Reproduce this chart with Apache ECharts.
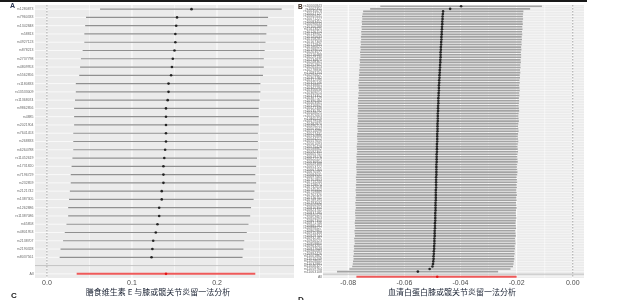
<!DOCTYPE html>
<html><head><meta charset="utf-8">
<script src="https://cdn.jsdelivr.net/npm/echarts@6/dist/echarts.min.js"></script>
<style>html,body{margin:0;padding:0;background:#fff}#c{width:625px;height:300px}</style>
</head><body><div id="c"></div>
<script>
// ---------- Panel A data ----------
const snpsA = ["rs1280873","rs7960333","rs1342848","rs58813","rs4927123","rs878213","rs2737798","rs4809953","rs5562856","rs1180833",
  "rs13533009","rs11368074","rs9862856","rs4885","rs2021904","rs7641453","rs268833","rs6264788","rs11452619","rs1731820",
  "rs7196729","rs232859","rs2121742","rs1387305","rs1262886","rs11387086","rs65858","rs4801953","rs2138707","rs2190328","rs8037561"];
const bA  = [0.170,0.153,0.152,0.151,0.151,0.150,0.148,0.147,0.146,0.143,0.143,0.142,0.140,0.140,0.140,0.140,0.140,0.139,0.138,0.137,0.137,0.137,0.135,0.135,0.132,0.132,0.130,0.128,0.125,0.124,0.123];
const loA = [0.0625,0.046,0.045,0.044,0.044,0.042,0.040,0.039,0.038,0.034,0.034,0.033,0.032,0.032,0.032,0.031,0.031,0.031,0.030,0.029,0.028,0.028,0.027,0.026,0.025,0.025,0.023,0.021,0.019,0.016,0.015];
const hiA = [0.276,0.260,0.259,0.258,0.257,0.256,0.255,0.255,0.254,0.251,0.251,0.250,0.249,0.249,0.249,0.248,0.248,0.248,0.247,0.246,0.245,0.246,0.244,0.243,0.240,0.239,0.237,0.235,0.232,0.231,0.230];
const allA = {b:0.140, lo:0.035, hi:0.245};
const tickLabelsA = [0, 0.1, 0.2];
const majorGridA = [0, 0.1, 0.2];
const minorGridA = [0.05, 0.15, 0.25];

// ---------- Panel B data ----------
const snpsB = ["rs10000843","rs1002351","rs10035678","rs10047127","rs10069431","rs10071227","rs10083452","rs10096633","rs10100289","rs10113425",
"rs10126714","rs10139902","rs10145633","rs10158281","rs10167309","rs10172845","rs10186622","rs10199014","rs10203577","rs10216489",
"rs10229130","rs10234875","rs10248361","rs10251907","rs10265413","rs10278836","rs10281154","rs10294627","rs10307782","rs10312590",
"rs10325146","rs10338801","rs10342297","rs10356638","rs10369014","rs10373352","rs10387729","rs10390184","rs10403561","rs10416907",
"rs10421348","rs10435792","rs10448025","rs10452663","rs10465119","rs10479536","rs10482870","rs10496213","rs10501647","rs10514098",
"rs10527431","rs10530886","rs10544217","rs10557659","rs10561093","rs10575428","rs10588862","rs10592305","rs10605741","rs10619176",
"rs10622519","rs10636954","rs10649388","rs10653722","rs10667160","rs10670597","rs10684031","rs10697465","rs10701803","rs10715240",
"rs10728674","rs10732018","rs10745452","rs10759889","rs10762326","rs10776751","rs10789195","rs10793532","rs10806968","rs10810304",
"rs10823741","rs10837185","rs10840529","rs10854963","rs10867300","rs10871746","rs10885182","rs10898527","rs10902961","rs10915308",
"rs10929744","rs10932187","rs10946523","rs10959860","rs10963201","rs10977649","rs10980083","rs10994426","rs11001862","rs11015209",
"rs11028645","rs11032981","rs11046327","rs11059764","rs11063108"];
const bB = [-0.0398,-0.0437,-0.0462,-0.0463,-0.0464,-0.0464,-0.0465,-0.0465,-0.0466,-0.0466,
-0.0467,-0.0467,-0.0468,-0.0468,-0.0469,-0.0469,-0.0470,-0.0470,-0.0471,-0.0471,
-0.0471,-0.0472,-0.0472,-0.0473,-0.0473,-0.0474,-0.0474,-0.0475,-0.0475,-0.0476,
-0.0476,-0.0477,-0.0477,-0.0477,-0.0478,-0.0478,-0.0479,-0.0479,-0.0479,-0.0480,
-0.0480,-0.0480,-0.0481,-0.0481,-0.0481,-0.0481,-0.0482,-0.0482,-0.0482,-0.0482,
-0.0483,-0.0483,-0.0483,-0.0483,-0.0484,-0.0484,-0.0484,-0.0484,-0.0485,-0.0485,
-0.0485,-0.0485,-0.0486,-0.0486,-0.0486,-0.0486,-0.0486,-0.0487,-0.0487,-0.0487,
-0.0487,-0.0487,-0.0488,-0.0488,-0.0488,-0.0488,-0.0488,-0.0489,-0.0489,-0.0489,
-0.0489,-0.0490,-0.0490,-0.0490,-0.0490,-0.0491,-0.0491,-0.0491,-0.0492,-0.0492,
-0.0492,-0.0493,-0.0493,-0.0493,-0.0494,-0.0494,-0.0495,-0.0495,-0.0496,-0.0496,
-0.0497,-0.0498,-0.0500,-0.0510,-0.0552];
const loB = [-0.0686,-0.0722,-0.0747,-0.0749,-0.0751,-0.0750,-0.0752,-0.0751,-0.0753,-0.0752,
-0.0754,-0.0753,-0.0755,-0.0754,-0.0756,-0.0755,-0.0757,-0.0756,-0.0758,-0.0757,
-0.0757,-0.0759,-0.0758,-0.0760,-0.0759,-0.0761,-0.0760,-0.0762,-0.0761,-0.0763,
-0.0762,-0.0764,-0.0763,-0.0762,-0.0764,-0.0763,-0.0765,-0.0764,-0.0765,-0.0766,
-0.0765,-0.0764,-0.0766,-0.0767,-0.0766,-0.0765,-0.0767,-0.0768,-0.0767,-0.0766,
-0.0768,-0.0769,-0.0768,-0.0767,-0.0769,-0.0770,-0.0769,-0.0768,-0.0770,-0.0771,
-0.0770,-0.0769,-0.0771,-0.0772,-0.0771,-0.0770,-0.0771,-0.0773,-0.0772,-0.0771,
-0.0773,-0.0772,-0.0774,-0.0773,-0.0772,-0.0774,-0.0773,-0.0775,-0.0774,-0.0773,
-0.0775,-0.0776,-0.0775,-0.0774,-0.0776,-0.0777,-0.0776,-0.0775,-0.0778,-0.0777,
-0.0776,-0.0779,-0.0778,-0.0777,-0.0780,-0.0779,-0.0781,-0.0780,-0.0782,-0.0781,
-0.0783,-0.0784,-0.0786,-0.0796,-0.0840];
const hiB = [-0.0110,-0.0152,-0.0176,-0.0177,-0.0178,-0.0177,-0.0179,-0.0178,-0.0180,-0.0179,
-0.0181,-0.0180,-0.0182,-0.0181,-0.0183,-0.0182,-0.0184,-0.0183,-0.0185,-0.0184,
-0.0184,-0.0186,-0.0185,-0.0187,-0.0186,-0.0188,-0.0187,-0.0189,-0.0188,-0.0190,
-0.0189,-0.0191,-0.0190,-0.0189,-0.0191,-0.0190,-0.0192,-0.0191,-0.0192,-0.0193,
-0.0192,-0.0191,-0.0193,-0.0194,-0.0193,-0.0192,-0.0194,-0.0195,-0.0194,-0.0193,
-0.0195,-0.0196,-0.0195,-0.0194,-0.0196,-0.0197,-0.0196,-0.0195,-0.0197,-0.0198,
-0.0197,-0.0196,-0.0198,-0.0199,-0.0198,-0.0197,-0.0198,-0.0200,-0.0199,-0.0198,
-0.0200,-0.0199,-0.0201,-0.0200,-0.0199,-0.0201,-0.0200,-0.0202,-0.0201,-0.0200,
-0.0202,-0.0203,-0.0202,-0.0201,-0.0203,-0.0204,-0.0203,-0.0202,-0.0205,-0.0204,
-0.0203,-0.0206,-0.0205,-0.0204,-0.0207,-0.0206,-0.0208,-0.0207,-0.0209,-0.0208,
-0.0210,-0.0211,-0.0213,-0.0222,-0.0266];
const allB = {b:-0.0483, lo:-0.0771, hi:-0.0200};
const tickLabelsB = [-0.08, -0.06, -0.04, -0.02, 0];
const majorGridB = [-0.08, -0.06, -0.04, -0.02, 0];
const minorGridB = [-0.07, -0.05, -0.03, -0.01];

const titleA = "膳食维生素 E 与膝或髋关节炎留一法分析";
const titleB = "血清白蛋白膝或髋关节炎留一法分析";

// ---------- build ----------
const LAT = "'Liberation Sans', Arial, sans-serif";
const CJK = "'Noto Sans CJK SC', sans-serif";

function panelSeries(k, b, lo, hi, all, major, minor, st) {
  const nS = b.length, blankIdx = nS, allIdx = nS + 1;
  const nCat = nS + 2;
  const catIdx = []; for (let i = 0; i < nCat; i++) catIdx.push([0, i]);
  const s = [];
  s.push({ type:'custom', xAxisIndex:k, yAxisIndex:k, z:1, silent:true, encode:{x:0,y:1},
    data: major.map(v => [v, 0, 1]).concat(minor.map(v => [v, 0, 0])),
    renderItem(params, api) {
      const cs = params.coordSys; const x = api.coord([api.value(0), 0])[0];
      return {type:'line', shape:{x1:x, y1:cs.y, x2:x, y2:cs.y + cs.height},
        style:{stroke:'#ffffff', lineWidth: api.value(2) === 1 ? 1 : 0.5}};
    }});
  s.push({ type:'custom', xAxisIndex:k, yAxisIndex:k, z:1, silent:true, encode:{x:0,y:1},
    data: catIdx,
    renderItem(params, api) {
      const cs = params.coordSys; const i = api.value(1); const y = api.coord([0, i])[1];
      const blank = i === blankIdx;
      return {type:'line', shape:{x1:cs.x, y1:y, x2:cs.x + cs.width, y2:y},
        style:{stroke: blank ? '#bebebe' : '#ffffff', lineWidth: blank ? 0.9 : st.hgrid}};
    }});
  s.push({ type:'custom', xAxisIndex:k, yAxisIndex:k, z:1, silent:true, encode:{x:0,y:1},
    data: [[0, 0]],
    renderItem(params, api) {
      const cs = params.coordSys; const x = api.coord([0, 0])[0];
      return {type:'line', shape:{x1:x, y1:cs.y, x2:x, y2:cs.y + cs.height},
        style:{stroke:'#8c8c8c', lineWidth:0.8, lineDash:[1.5,1.5]}};
    }});
  s.push({ type:'custom', xAxisIndex:k, yAxisIndex:k, z:2, silent:true, encode:{x:[0,1],y:2},
    data: b.map((v, i) => [lo[i], hi[i], i]),
    renderItem(params, api) {
      const p1 = api.coord([api.value(0), api.value(2)]);
      const p2 = api.coord([api.value(1), api.value(2)]);
      return {type:'line', shape:{x1:p1[0], y1:p1[1], x2:p2[0], y2:p2[1]},
        style:{stroke: st.ci, lineWidth: st.ciW}};
    }});
  s.push({ type:'scatter', xAxisIndex:k, yAxisIndex:k, z:3, silent:true,
    symbolSize: st.pt, itemStyle:{color:'#000000'},
    data: b.map((v, i) => [v, i]) });
  s.push({ type:'custom', xAxisIndex:k, yAxisIndex:k, z:2, silent:true, encode:{x:[0,1],y:2},
    data: [[all.lo, all.hi, allIdx]],
    renderItem(params, api) {
      const p1 = api.coord([api.value(0), api.value(2)]);
      const p2 = api.coord([api.value(1), api.value(2)]);
      return {type:'line', shape:{x1:p1[0], y1:p1[1], x2:p2[0], y2:p2[1]},
        style:{stroke:'#ef5a5a', lineWidth:2}};
    }});
  s.push({ type:'scatter', xAxisIndex:k, yAxisIndex:k, z:3, silent:true,
    symbolSize: st.pt, itemStyle:{color:'#e00000'},
    data: [[all.b, allIdx]] });
  return s;
}

const catsA = snpsA.concat(['', 'All']);
const catsB = snpsB.concat(['', 'All']);

function xAx(k, min, max, ticks, dec) {
  return { gridIndex:k, type:'value', min, max,
    axisLine:{show:false}, axisTick:{show:false}, splitLine:{show:false},
    axisLabel:{customValues: ticks, formatter: v => Number(v).toFixed(dec),
      fontSize:7, color:'#4d4d4d', margin:1.5, fontFamily:LAT} };
}
function yAx(k, cats, margin) {
  return { gridIndex:k, type:'category', data:cats, inverse:true,
    axisLine:{show:false}, axisTick:{show:false}, splitLine:{show:false},
    axisLabel:{interval:0, fontSize:3.5, color:'#6a6a6a', margin, fontFamily:LAT} };
}

const option = {
  animation:false,
  backgroundColor:'#ffffff',
  grid:[
    {left:35, top:5, width:259, height:273, show:true, backgroundColor:'#ebebeb', borderWidth:0},
    {left:323, top:5, width:261, height:273, show:true, backgroundColor:'#ebebeb', borderWidth:0}
  ],
  xAxis:[ xAx(0, -0.014, 0.2905, tickLabelsA, 1), xAx(1, -0.089, 0.004, tickLabelsB, 2) ],
  yAxis:[ yAx(0, catsA, 1.5), yAx(1, catsB, 1) ],
  series: panelSeries(0, bA, loA, hiA, allA, majorGridA, minorGridA, {ci:'#8f8f8f', ciW:1.2, pt:2.6, hgrid:0.7})
    .concat(panelSeries(1, bB, loB, hiB, allB, majorGridB, minorGridB, {ci:'#a3a3a3', ciW:1.6, pt:2.6, hgrid:0.5})),
  graphic:[
    {type:'rect', left:0, top:0, shape:{width:587, height:2}, style:{fill:'#1a1a1a'}, silent:true},
    {type:'text', left:10, top:2.5, style:{text:'A', font:"bold 7px 'Liberation Sans'", fill:'#2b3550'}},
    {type:'text', left:298, top:4, style:{text:'B', font:"bold 6.5px 'Liberation Sans'", fill:'#3a2a20'}},
    {type:'text', left:11, top:292, style:{text:'C', font:"bold 8px 'Liberation Sans'", fill:'#222'}},
    {type:'text', left:298, top:296, style:{text:'D', font:"bold 8px 'Liberation Sans'", fill:'#222'}},
    {type:'text', x:158, y:291.5, style:{text:titleA, font:"8px " + CJK, fill:'#1a2233', align:'center', verticalAlign:'middle'}},
    {type:'text', x:452, y:291.5, style:{text:titleB, font:"8px " + CJK, fill:'#1a2233', align:'center', verticalAlign:'middle'}}
  ]
};
const chart = echarts.init(document.getElementById('c'), null, {renderer:'canvas'});
chart.setOption(option);
</script>
</body></html>
